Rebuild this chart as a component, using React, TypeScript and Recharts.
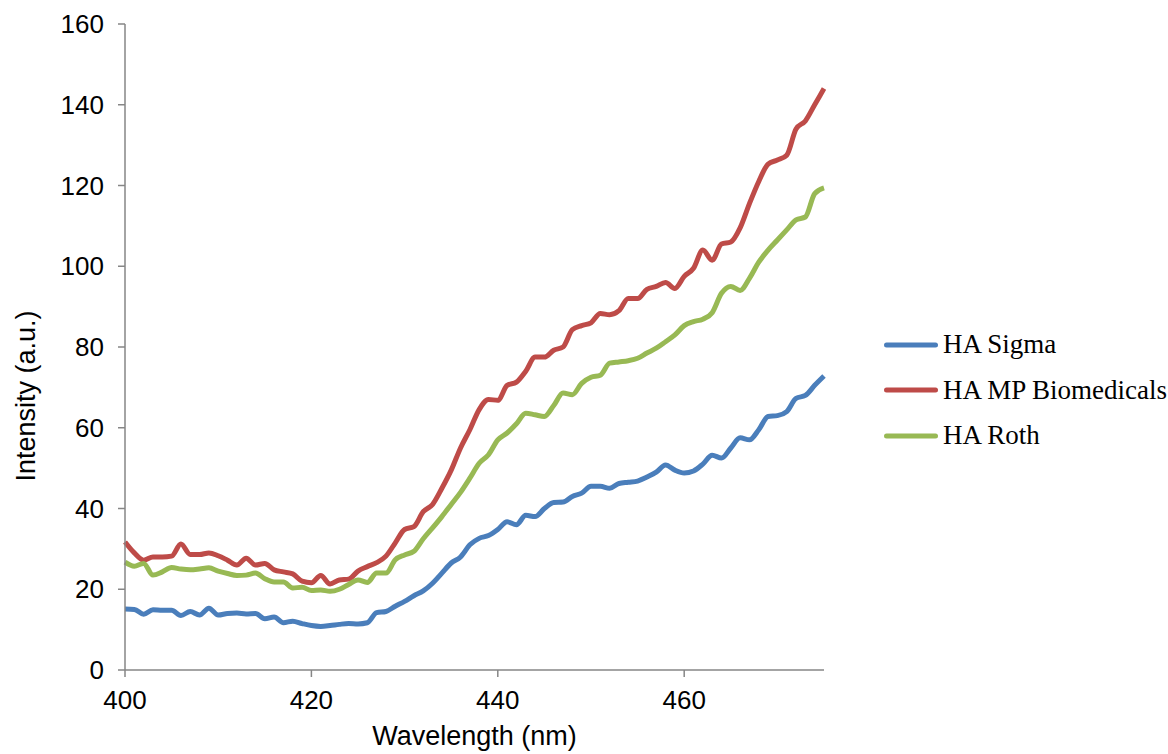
import { LineChart, Line, XAxis, YAxis, Legend } from "recharts";

const wavelengths = [
  400, 401, 402, 403, 404, 405, 406, 407, 408, 409, 410, 411, 412, 413, 414, 415, 416, 417, 418, 419,
  420, 421, 422, 423, 424, 425, 426, 427, 428, 429, 430, 431, 432, 433, 434, 435, 436, 437, 438, 439,
  440, 441, 442, 443, 444, 445, 446, 447, 448, 449, 450, 451, 452, 453, 454, 455, 456, 457, 458, 459,
  460, 461, 462, 463, 464, 465, 466, 467, 468, 469, 470, 471, 472, 473, 474, 475,
];

const sigma = [
  15.1, 15.0, 13.8, 14.9, 14.8, 14.8, 13.5, 14.5, 13.6, 15.3, 13.6, 14.0, 14.1, 13.9, 14.0, 12.7, 13.1, 11.7, 12.1, 11.5,
  11.0, 10.8, 11.0, 11.3, 11.5, 11.4, 11.7, 14.2, 14.5, 15.8, 17.0, 18.4, 19.6, 21.5, 24.0, 26.5, 28.0, 31.0, 32.6, 33.3,
  34.8, 36.7, 36.0, 38.3, 38.0, 40.0, 41.5, 41.6, 43.0, 43.8, 45.5, 45.5, 45.0, 46.2, 46.5, 46.8, 47.8, 49.0, 50.8, 49.5,
  48.8, 49.3, 51.0, 53.2, 52.5, 55.0, 57.5, 57.0, 59.5, 62.8, 63.0, 64.0, 67.3, 68.0, 70.5, 72.8,
];

const mpBiomedicals = [
  31.7, 29.0, 27.2, 28.0, 28.0, 28.2, 31.2, 28.6, 28.6, 29.0, 28.3, 27.2, 26.0, 27.7, 26.0, 26.4, 24.8, 24.3, 23.8, 22.0,
  21.6, 23.4, 21.3, 22.3, 22.5, 24.5, 25.6, 26.6, 28.2, 31.5, 34.8, 35.5, 39.2, 41.0, 45.0, 49.5, 55.0, 59.5, 64.5, 67.0,
  66.8, 70.5, 71.3, 74.0, 77.5, 77.5, 79.2, 80.0, 84.3, 85.3, 86.0, 88.3, 88.0, 89.0, 92.0, 92.0, 94.3, 95.0, 96.0, 94.5,
  97.5, 99.5, 104.0, 101.5, 105.5, 106.0, 109.5, 115.5, 121.0, 125.3, 126.3, 127.5, 134.0, 136.0, 140.0, 144.0,
];

const roth = [
  26.7, 25.7, 26.4, 23.5, 24.3, 25.4, 25.0, 24.8, 25.0, 25.3, 24.5, 23.9, 23.4, 23.5, 24.0, 22.6, 21.8, 21.8, 20.3, 20.5,
  19.7, 19.8, 19.5, 20.0, 21.2, 22.3, 21.7, 24.0, 24.0, 27.3, 28.5, 29.4, 32.5, 35.2, 38.0, 41.0, 44.0, 47.5, 51.2, 53.3,
  57.0, 58.7, 61.0, 63.6, 63.2, 62.8, 65.5, 68.6, 68.2, 71.0, 72.5, 73.0, 76.0, 76.3, 76.6, 77.2, 78.5, 79.7, 81.3, 83.0,
  85.3, 86.3, 86.9, 88.5, 93.3, 95.0, 94.0, 97.0, 101.0, 104.0, 106.5, 109.0, 111.5, 112.2, 118.0, 119.4,
];

const xTicks = [400, 420, 440, 460];
const yTicks = [0, 20, 40, 60, 80, 100, 120, 140, 160];

const series = [
  { key: "sigma", name: "HA Sigma", color: "#4A7EBB" },
  { key: "mp", name: "HA MP Biomedicals", color: "#BE4B48" },
  { key: "roth", name: "HA Roth", color: "#98B954" },
];

const data = wavelengths.map((w, i) => ({
  wavelength: w,
  sigma: sigma[i],
  mp: mpBiomedicals[i],
  roth: roth[i],
}));

const axisColor = "#868686";
const tickStyle = { fill: "#000", fontSize: 26, fontFamily: "Liberation Sans, Arial, sans-serif" };

const LegendContent = () => (
  <div>
    {series.map((s) => (
      <div key={s.key} style={{ display: "flex", alignItems: "center", height: 45.5 }}>
        <svg width={60} height={10} style={{ flexShrink: 0 }}>
          <line x1={5.5} y1={5} x2={54.5} y2={5} stroke={s.color} strokeWidth={5} strokeLinecap="round" />
        </svg>
        <span
          style={{
            marginLeft: 2,
            fontFamily: "Liberation Serif, Times New Roman, serif",
            fontSize: 27,
            color: "#000",
            whiteSpace: "nowrap",
          }}
        >
          {s.name}
        </span>
      </div>
    ))}
  </div>
);

const YTitle = () => (
  <text
    x={35}
    y={396}
    transform="rotate(-90, 35, 396)"
    textAnchor="middle"
    fill="#000"
    fontSize={27}
    fontFamily="Liberation Sans, Arial, sans-serif"
  >
    Intensity (a.u.)
  </text>
);

export default function App() {
  return (
    <div style={{ position: "absolute", left: 0, top: 0, width: 1168, height: 754, background: "#fff" }}>
      <LineChart width={1168} height={754} data={data} margin={{ top: 24, right: 344, bottom: 0, left: 0 }}>
        <XAxis
          dataKey="wavelength"
          type="number"
          domain={[400, 475]}
          ticks={xTicks}
          height={84}
          stroke={axisColor}
          strokeWidth={1.5}
          tickSize={7}
          tickMargin={14}
          tick={tickStyle}
          label={{
            value: "Wavelength (nm)",
            position: "insideBottom",
            offset: 9,
            fill: "#000",
            fontSize: 27,
            fontFamily: "Liberation Sans, Arial, sans-serif",
          }}
        />
        <YAxis
          type="number"
          domain={[0, 160]}
          ticks={yTicks}
          width={125}
          stroke={axisColor}
          strokeWidth={1.5}
          tickSize={7}
          tickMargin={14}
          tick={tickStyle}
          label={{ content: () => <YTitle /> }}
        />
        {series.map((s) => (
          <Line
            key={s.key}
            type="monotone"
            dataKey={s.key}
            name={s.name}
            stroke={s.color}
            strokeWidth={5}
            dot={false}
            isAnimationActive={false}
          />
        ))}
        <Legend
          layout="vertical"
          align="center"
          verticalAlign="middle"
          content={() => <LegendContent />}
          wrapperStyle={{ left: 881, top: 322, width: 287, overflow: "hidden" }}
        />
      </LineChart>
    </div>
  );
}
